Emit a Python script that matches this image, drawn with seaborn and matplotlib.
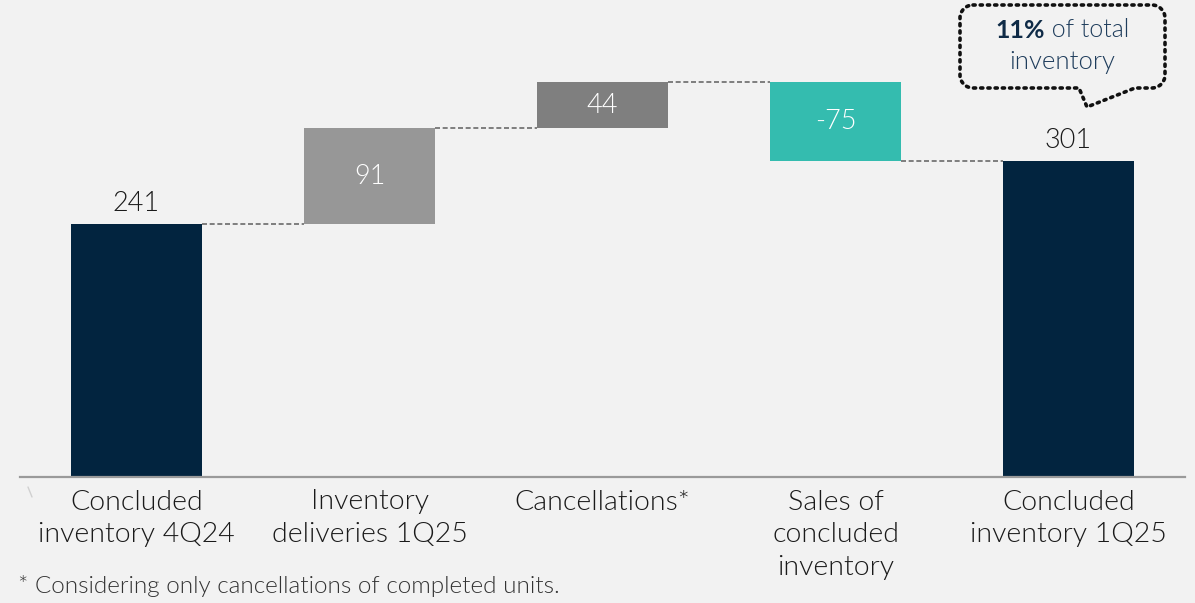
import matplotlib
matplotlib.use("Agg")
import matplotlib.pyplot as plt
from matplotlib.path import Path
from matplotlib.patches import PathPatch
import seaborn as sns
import numpy as np

# ---- data ----
categories = ["Concluded\ninventory 4Q24", "Inventory\ndeliveries 1Q25", "Cancellations*",
              "Sales of\nconcluded\ninventory", "Concluded\ninventory 1Q25"]
values = [241, 91, 44, -75, 301]
is_total = [True, False, False, False, True]
value_labels = ["241", "91", "44", "-75", "301"]
bar_colors = ["#02243f", "#979797", "#7f7f7f", "#34bcaf", "#02243f"]
footnote = "* Considering only cancellations of completed units."
callout_bold = "11%"
callout_rest = " of total"
callout_line2 = "inventory"

# ---- derived waterfall geometry ----
bases, tops = [], []
running = 0
for v, tot in zip(values, is_total):
    if tot:
        bases.append(0); tops.append(v); running = v
    else:
        new = running + v
        bases.append(min(running, new)); tops.append(max(running, new)); running = new
heights = [t - b for t, b in zip(tops, bases)]

BG = "#f2f2f2"
LW = 300
sns.set_theme(style="white")
plt.rcParams['font.family'] = ['Lato', 'DejaVu Sans']

fig = plt.figure(figsize=(11.95, 6.03), dpi=100, facecolor=BG)
ax = fig.add_axes([20/1195, (603-477)/603, 1165/1195, 477/603])
ax.set_facecolor(BG)

sns.barplot(x=list(range(len(categories))), y=heights, hue=list(range(len(categories))),
            palette=bar_colors, legend=False, width=0.558, ax=ax, saturation=1,
            linewidth=0)
for p, b in zip(ax.patches, bases):
    p.set_y(b)

ax.set_xlim(-0.5, 4.5)
ax.set_ylim(0, 454.3)

# connectors
w = 0.558
running = 0
levels = []
for v, tot in zip(values, is_total):
    running = v if tot else running + v
    levels.append(running)
for i in range(len(values) - 1):
    ax.plot([i + w/2, i + 1 - w/2], [levels[i], levels[i]], color="#6b6b6b",
            lw=1.2, linestyle=(0, (3, 1.6)), zorder=1)

# value labels
for i, (lab, tot) in enumerate(zip(value_labels, is_total)):
    if tot:
        ax.annotate(lab, (i, tops[i]), xytext=(0, 6), textcoords="offset points",
                    ha="center", va="bottom", fontsize=19.5, fontweight=LW, color="#1a1a1a")
    else:
        ax.text(i, (tops[i] + bases[i]) / 2, lab, ha="center", va="center",
                fontsize=19.5, fontweight=LW, color="white")

# axes styling
for s in ["top", "right", "left"]:
    ax.spines[s].set_visible(False)
ax.spines["bottom"].set_color("#9a9a9a")
ax.spines["bottom"].set_linewidth(1.6)
ax.set_yticks([])
ax.set_xticks(range(len(categories)))
ax.set_xticklabels(categories, fontsize=20.5, fontweight=LW, color="#1a1a1a",
                   linespacing=1.38)
ax.tick_params(axis="x", length=0, pad=9)
ax.set_xlabel(""); ax.set_ylabel("")

# footnote
fig.text(18/1195, 1 - 586/603, footnote, ha="left", va="center", fontsize=17.5,
         fontweight=LW, color="#333333")

# tiny stray mark near origin
fig.add_artist(plt.Line2D([28/1195, 32/1195], [1-487/603, 1-497/603],
                          transform=fig.transFigure, color="#d0d0d0", lw=1))

# callout bubble (pixel coords -> figure fraction)
def P(x, y):
    return (x / 1195, 1 - y / 603)
x0, x1, y0, y1, r = 960, 1165, 5, 88, 13
k = 0.55
verts = [P(x0 + r, y0), P(x1 - r, y0),
         P(x1 - r + r*k, y0), P(x1, y0 + r - r*k), P(x1, y0 + r),
         P(x1, y1 - r),
         P(x1, y1 - r + r*k), P(x1 - r + r*k, y1), P(x1 - r, y1),
         P(1135, y1), P(1087, 107), P(1079, y1),
         P(x0 + r, y1),
         P(x0 + r - r*k, y1), P(x0, y1 - r + r*k), P(x0, y1 - r),
         P(x0, y0 + r),
         P(x0, y0 + r - r*k), P(x0 + r - r*k, y0), P(x0 + r, y0)]
codes = [Path.MOVETO, Path.LINETO,
         Path.CURVE4, Path.CURVE4, Path.CURVE4,
         Path.LINETO,
         Path.CURVE4, Path.CURVE4, Path.CURVE4,
         Path.LINETO, Path.LINETO, Path.LINETO,
         Path.LINETO,
         Path.CURVE4, Path.CURVE4, Path.CURVE4,
         Path.LINETO,
         Path.CURVE4, Path.CURVE4, Path.CURVE4]
patch = PathPatch(Path(verts, codes), transform=fig.transFigure, facecolor=BG,
                  edgecolor="#111111", lw=2.6, linestyle=(0, (0.6, 1.4)),
                  capstyle="round", joinstyle="round")
fig.add_artist(patch)

fig.text(*P(1045, 30), callout_bold, ha="right", va="center", fontsize=18,
         fontweight="bold", color="#0f2b47")
fig.text(*P(1045, 30), callout_rest, ha="left", va="center", fontsize=18,
         fontweight=LW, color="#1f3d5c")
fig.text(*P(1062, 62), callout_line2, ha="center", va="center", fontsize=18.5,
         fontweight=LW, color="#1f3d5c")

fig.savefig("out.png", dpi=100, facecolor=BG)
